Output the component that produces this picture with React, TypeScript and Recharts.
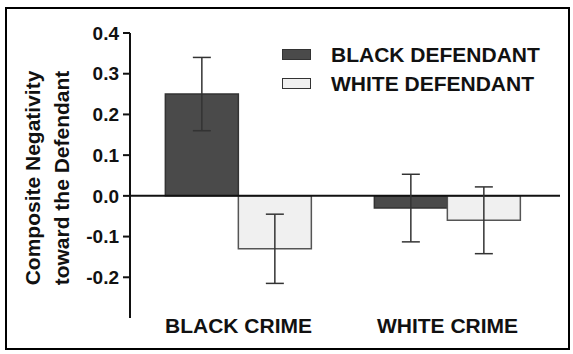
import React from "react";
import {
  Bar,
  BarChart,
  ErrorBar,
  ReferenceLine,
  XAxis,
  YAxis,
} from "recharts";

const categories = ["BLACK CRIME", "WHITE CRIME"];
const blackDefendant = [0.25, -0.03];
const blackDefendantErr = [0.09, 0.083];
const whiteDefendant = [-0.13, -0.06];
const whiteDefendantErr = [0.085, 0.082];
const yTicks = [-0.2, -0.1, 0, 0.1, 0.2, 0.3, 0.4];
const seriesNames = ["BLACK DEFENDANT", "WHITE DEFENDANT"];
const seriesColors = ["#4a4a4a", "#f0f0f0"];

const data = categories.map((name, i) => ({
  name,
  black: blackDefendant[i],
  blackErr: blackDefendantErr[i],
  white: whiteDefendant[i],
  whiteErr: whiteDefendantErr[i],
}));

const font = "'Liberation Sans', Arial, sans-serif";

const YLabel = () => (
  <text
    transform="translate(40,178) rotate(-90)"
    textAnchor="middle"
    fontFamily={font}
    fontWeight="bold"
    fontSize={21}
    fill="#111"
  >
    <tspan x={0} y={0}>Composite Negativity</tspan>
    <tspan x={0} y={29}>toward the Defendant</tspan>
  </text>
);

const LegendBox = () => (
  <div
    style={{
      position: "absolute",
      left: 282,
      top: 40,
      fontFamily: font,
      fontWeight: "bold",
      fontSize: 21,
      color: "#111",
      lineHeight: "29px",
    }}
  >
    {seriesNames.map((label, i) => (
      <div key={label} style={{ display: "flex", alignItems: "center", height: 29 }}>
        <span
          style={{
            width: 27,
            height: 9,
            background: seriesColors[i],
            border: "1.5px solid #333",
            marginRight: 20,
          }}
        />
        {label}
      </div>
    ))}
  </div>
);

export default function App() {
  return (
    <div style={{ position: "absolute", left: 0, top: 0, width: 573, height: 354, background: "#fff" }}>
      <div
        style={{
          position: "absolute",
          left: 5,
          top: 7,
          width: 561,
          height: 339,
          border: "2px solid #000",
        }}
      />
      <BarChart
        width={573}
        height={354}
        data={data}
        margin={{ top: 33, right: 13, bottom: 6, left: 50 }}
        barCategoryGap="15%"
        barGap={0}
        style={{ position: "absolute", left: 0, top: 0 }}
      >
        <XAxis
          dataKey="name"
          axisLine={false}
          tickLine={false}
          height={30}
          interval={0}
          padding={{ left: 4, right: 8 }}
          tick={{ fontFamily: font, fontWeight: "bold", fontSize: 21, fill: "#111" }}
          tickSize={0}
          tickMargin={0}
        />
        <YAxis
          width={80}
          domain={[-0.3, 0.4]}
          ticks={yTicks}
          interval={0}
          allowDataOverflow
          tickFormatter={(v: number) => v.toFixed(1)}
          axisLine={{ stroke: "#111", strokeWidth: 2 }}
          tickLine={{ stroke: "#111", strokeWidth: 2 }}
          tickSize={7}
          tickMargin={4}
          tick={{ fontFamily: font, fontWeight: "bold", fontSize: 19, fill: "#111" }}
          label={<YLabel />}
        />
        <ReferenceLine y={0} stroke="#111" strokeWidth={2} />
        <Bar dataKey="black" fill={seriesColors[0]} stroke="#333" strokeWidth={1.5} isAnimationActive={false}>
          <ErrorBar dataKey="blackErr" width={9} stroke="#333" strokeWidth={1.5} direction="y" />
        </Bar>
        <Bar dataKey="white" fill={seriesColors[1]} stroke="#555" strokeWidth={1.5} isAnimationActive={false}>
          <ErrorBar dataKey="whiteErr" width={9} stroke="#333" strokeWidth={1.5} direction="y" />
        </Bar>
      </BarChart>
      <LegendBox />
    </div>
  );
}
